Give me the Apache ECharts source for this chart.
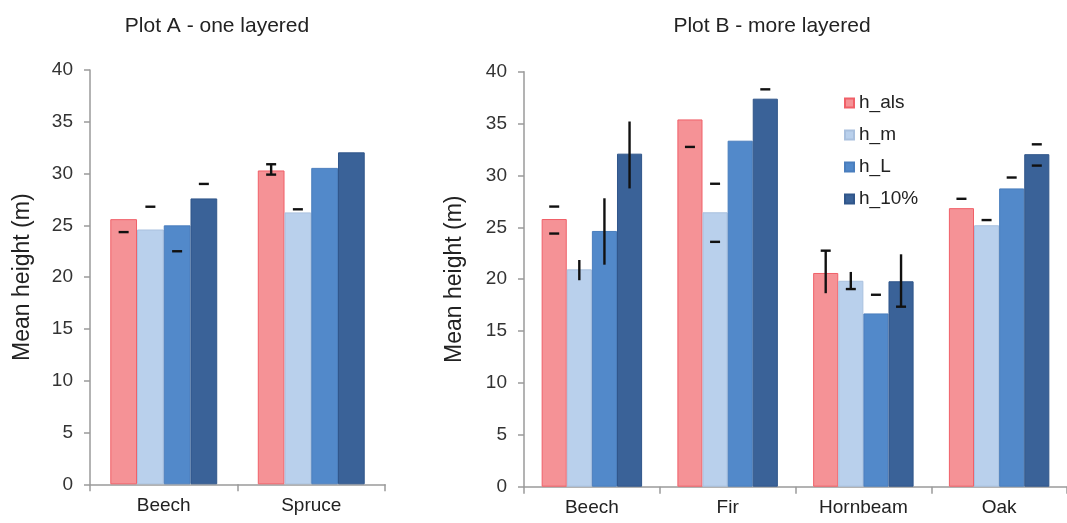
<!DOCTYPE html>
<html>
<head>
<meta charset="utf-8">
<script src="https://cdn.jsdelivr.net/npm/echarts@6/dist/echarts.min.js"></script>
<style>
  html, body { margin: 0; padding: 0; background: #fff; }
  #chart { width: 1067px; height: 523px; }
</style>
</head>
<body>
<div id="chart"></div>
<script>
  // 数据
  var seriesNames = ["h_als", "h_m", "h_L", "h_10%"];
  var yTicks = [0, 40, 5];

  var catsA = ["Beech", "Spruce"];
  var alsA = [25.6, 30.3];
  var mA = [24.6, 26.25];
  var lA = [25.0, 30.55];
  var p10A = [27.6, 32.05];
  // [类别, 系列, 值] 短横线
  var capsA = [[0, 0, 24.35], [0, 1, 26.8], [0, 2, 22.5], [0, 3, 29.0],
               [1, 0, 30.9], [1, 0, 29.9], [1, 1, 26.55]];
  // [类别, 系列, 下, 上] 竖线
  var whiskersA = [[1, 0, 29.9, 30.9]];

  var catsB = ["Beech", "Fir", "Hornbeam", "Oak"];
  var alsB = [25.8, 35.4, 20.6, 26.85];
  var mB = [20.95, 26.45, 19.85, 25.2];
  var lB = [24.65, 33.35, 16.7, 28.75];
  var p10B = [32.1, 37.4, 19.8, 32.05];
  var capsB = [[0, 0, 27.0], [0, 0, 24.4],
               [1, 0, 32.75], [1, 1, 29.2], [1, 1, 23.6], [1, 3, 38.3],
               [2, 0, 22.75], [2, 1, 19.05], [2, 2, 18.5], [2, 3, 17.35],
               [3, 0, 27.75], [3, 1, 25.7], [3, 2, 29.8], [3, 3, 33.0], [3, 3, 30.95]];
  var whiskersB = [[0, 1, 19.9, 21.85], [0, 2, 21.4, 27.8], [0, 3, 28.75, 35.2],
                   [2, 0, 18.65, 22.75], [2, 1, 19.05, 20.7], [2, 3, 17.35, 22.4]];

  var colors = ["#F59296", "#B9D0EC", "#5289CA", "#3A6298"];
  var borders = ["#F06068", "#A9C0DE", "#4A7EBD", "#30568A"];
  var font = "Liberation Sans, Arial, sans-serif";
  var gapA = 0.275, gapB = 0.26;

  var myChart = echarts.init(document.getElementById("chart"));

  function makeYAxis(gridIndex, gap) {
    return {
      gridIndex: gridIndex,
      type: "value",
      min: yTicks[0],
      max: yTicks[1],
      interval: yTicks[2],
      name: "Mean height (m)",
      nameLocation: "middle",
      nameRotate: 90,
      nameGap: gap,
      nameTextStyle: { fontFamily: font, fontSize: 23, color: "#222" },
      axisLine: { show: true, lineStyle: { color: "#9a9a9a", width: 1.5 } },
      axisTick: { show: true, length: 6, lineStyle: { color: "#9a9a9a", width: 1.5 } },
      splitLine: { show: false },
      axisLabel: { fontFamily: font, fontSize: 19, color: "#333", margin: 17 }
    };
  }

  function makeXAxis(gridIndex, cats) {
    return {
      gridIndex: gridIndex,
      type: "category",
      data: cats,
      axisLine: { show: true, lineStyle: { color: "#9a9a9a", width: 1.5 } },
      axisTick: { show: true, length: 7, alignWithLabel: false, lineStyle: { color: "#9a9a9a", width: 1.5 } },
      axisLabel: { fontFamily: font, fontSize: 19, color: "#222", margin: 12 },
      splitLine: { show: false }
    };
  }

  function barSeries(i, data, axisIndex, gap) {
    return {
      name: seriesNames[i],
      type: "bar",
      xAxisIndex: axisIndex,
      yAxisIndex: axisIndex,
      data: data,
      barGap: "0%",
      barCategoryGap: (gap * 100) + "%",
      itemStyle: { color: colors[i], borderColor: borders[i], borderWidth: 1 }
    };
  }

  // 误差线（短横线 + 竖线）
  function errSeries(caps, whiskers, axisIndex, gap) {
    var items = [];
    caps.forEach(function (c) { items.push([c[0], c[1], c[2], c[2], 1]); });
    whiskers.forEach(function (w) { items.push([w[0], w[1], w[2], w[3], 0]); });
    return {
      type: "custom",
      xAxisIndex: axisIndex,
      yAxisIndex: axisIndex,
      data: items,
      encode: { x: 0, y: 2 },
      z: 10,
      silent: true,
      renderItem: function (params, api) {
        var band = api.size([1, 0])[0];
        var bw = band * (1 - gap) / 4;
        var c0 = api.coord([api.value(0), api.value(2)]);
        var c1 = api.coord([api.value(0), api.value(3)]);
        var x = c0[0] + (api.value(1) - 1.5) * bw;
        var style = { stroke: "#111", lineWidth: 2.4 };
        if (api.value(4) === 1) {
          return { type: "line", shape: { x1: x - 5, y1: c0[1], x2: x + 5, y2: c0[1] }, style: style };
        }
        return { type: "line", shape: { x1: x, y1: c0[1], x2: x, y2: c1[1] }, style: style };
      }
    };
  }

  myChart.setOption({
    backgroundColor: "#fff",
    animation: false,
    title: [
      { text: "Plot A - one layered", left: 212, top: 11, textAlign: "center",
        textStyle: { fontFamily: font, fontSize: 21, fontWeight: "normal", color: "#222" } },
      { text: "Plot B - more layered", left: 767, top: 11, textAlign: "center",
        textStyle: { fontFamily: font, fontSize: 21, fontWeight: "normal", color: "#222" } }
    ],
    legend: {
      data: seriesNames,
      orient: "vertical",
      left: 839,
      top: 88,
      itemWidth: 9,
      itemHeight: 9,
      itemGap: 12,
      icon: "rect",
      textStyle: { fontFamily: font, fontSize: 19, color: "#222", lineHeight: 20 }
    },
    grid: [
      { left: 90, top: 70, width: 295, height: 414.3 },
      { left: 524, top: 71.7, width: 548, height: 415 }
    ],
    xAxis: [makeXAxis(0, catsA), makeXAxis(1, catsB)],
    yAxis: [makeYAxis(0, 56), makeYAxis(1, 58)],
    series: [
      barSeries(0, alsA, 0, gapA),
      barSeries(1, mA, 0, gapA),
      barSeries(2, lA, 0, gapA),
      barSeries(3, p10A, 0, gapA),
      barSeries(0, alsB, 1, gapB),
      barSeries(1, mB, 1, gapB),
      barSeries(2, lB, 1, gapB),
      barSeries(3, p10B, 1, gapB),
      errSeries(capsA, whiskersA, 0, gapA),
      errSeries(capsB, whiskersB, 1, gapB)
    ]
  });
</script>
</body>
</html>
